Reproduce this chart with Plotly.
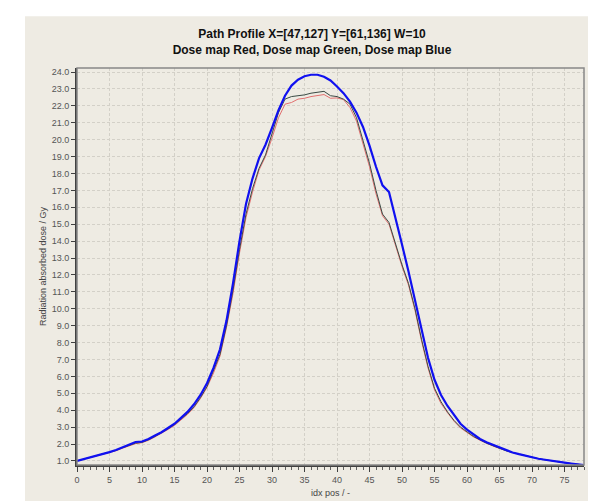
import plotly.graph_objects as go

idx = list(range(0, 79))

blue = [1.00, 1.10, 1.20, 1.30, 1.40, 1.52, 1.65, 1.80, 1.95, 2.12,
        2.15, 2.30, 2.50, 2.70, 2.95, 3.20, 3.55, 3.90, 4.35, 4.90,
        5.60, 6.50, 7.60, 9.30, 11.50, 14.00, 16.20, 17.70, 18.90, 19.70,
        20.70, 21.75, 22.60, 23.20, 23.55, 23.75, 23.84, 23.84, 23.72, 23.50,
        23.15, 22.75, 22.25, 21.60, 20.75, 19.65, 18.40, 17.30, 16.90, 15.40,
        13.80, 12.20, 10.50, 8.80, 7.10, 5.80, 4.90, 4.25, 3.70, 3.20,
        2.85, 2.55, 2.30, 2.10, 1.95, 1.80, 1.62, 1.50, 1.40, 1.30,
        1.20, 1.13, 1.07, 1.00, 0.95, 0.90, 0.85, 0.80, 0.76]

green = [1.00, 1.10, 1.20, 1.30, 1.40, 1.50, 1.63, 1.78, 1.92, 2.05,
         2.10, 2.25, 2.45, 2.65, 2.90, 3.15, 3.45, 3.80, 4.20, 4.75,
         5.40, 6.30, 7.30, 9.00, 11.10, 13.50, 15.60, 17.10, 18.30, 19.10,
         20.30, 21.60, 22.40, 22.55, 22.60, 22.65, 22.75, 22.80, 22.86, 22.60,
         22.55, 22.40, 22.10, 21.30, 20.00, 18.60, 17.00, 15.60, 15.10, 13.80,
         12.60, 11.50, 10.00, 8.20, 6.60, 5.30, 4.50, 3.90, 3.40, 3.00,
         2.70, 2.45, 2.25, 2.05, 1.90, 1.75, 1.60, 1.50, 1.40, 1.30,
         1.20, 1.13, 1.07, 1.00, 0.95, 0.90, 0.85, 0.80, 0.76]

red = [1.00, 1.10, 1.20, 1.30, 1.38, 1.48, 1.60, 1.75, 1.90, 2.02,
       2.08, 2.22, 2.42, 2.62, 2.86, 3.10, 3.40, 3.75, 4.15, 4.70,
       5.35, 6.20, 7.20, 8.90, 10.90, 13.30, 15.40, 16.90, 18.20, 19.00,
       20.10, 21.30, 22.10, 22.20, 22.40, 22.45, 22.55, 22.60, 22.67, 22.45,
       22.47, 22.37, 21.90, 21.10, 19.80, 18.40, 16.80, 15.50, 15.00, 13.70,
       12.50, 11.40, 9.90, 8.10, 6.50, 5.20, 4.40, 3.85, 3.35, 2.95,
       2.68, 2.42, 2.22, 2.03, 1.88, 1.74, 1.60, 1.50, 1.40, 1.30,
       1.20, 1.13, 1.07, 1.00, 0.95, 0.90, 0.85, 0.80, 0.76]

y_ticks = [float(v) for v in range(1, 25)]

W, H = 596, 501
ML, MR, MT, MB = 69, 20, 60, 42
PW, PH = W - ML - MR, H - MT - MB

def px(x):
    return (x - ML) / PW

def py(y):
    return 1 - (y - MT) / PH

panel = "#EEEBE3"
grid = "#D3D0C8"

fig = go.Figure()
fig.add_trace(go.Scatter(x=idx, y=red, mode="lines", name="Dose map Red",
                         line=dict(color="#E27070", width=1)))
fig.add_trace(go.Scatter(x=idx, y=green, mode="lines", name="Dose map Green",
                         line=dict(color="#3A4A44", width=1)))
fig.add_trace(go.Scatter(x=idx, y=blue, mode="lines", name="Dose map Blue",
                         line=dict(color="#1010F0", width=2.2)))

fig.update_layout(
    width=W, height=H,
    margin=dict(l=ML, r=MR, t=MT, b=MB),
    paper_bgcolor="white",
    plot_bgcolor=panel,
    showlegend=False,
    font=dict(family="Liberation Sans, Arial, sans-serif", size=9, color="#555555"),
    title=dict(text="<b>Path Profile X=[47,127] Y=[61,136] W=10<br>Dose map Red, Dose map Green, Dose map Blue</b>",
               x=px(304), xanchor="center", xref="paper",
               y=1 - 30 / H, yanchor="middle",
               font=dict(size=12, color="#111111", family="Liberation Sans, Arial, sans-serif")),
    shapes=[
        dict(type="rect", xref="paper", yref="paper", x0=px(17), x1=px(592), y0=py(497), y1=py(8),
             fillcolor=panel, line=dict(width=0), layer="below"),
        dict(type="line", xref="paper", yref="paper", x0=px(592), x1=px(592), y0=py(497), y1=py(8),
             line=dict(color="#999999", width=1.5), layer="below"),
        dict(type="rect", xref="paper", yref="paper", x0=0, x1=1, y0=0, y1=1,
             line=dict(color="#888888", width=1.5), layer="above"),
    ],
    xaxis=dict(range=[0, 78], tickmode="linear", tick0=0, dtick=5,
               showgrid=True, gridcolor=grid, griddash="3px,2px", gridwidth=1,
               zeroline=False, showline=True, linecolor="#404040", linewidth=2,
               ticks="outside", ticklen=5, tickcolor="#404040",
               minor=dict(dtick=1, ticks="outside", ticklen=3, tickcolor="#606060", showgrid=False),
               title=dict(text="idx pos / -", font=dict(size=9, color="#444444"), standoff=6)),
    yaxis=dict(range=[0.76, 24.24], tickmode="array", tickvals=y_ticks,
               ticktext=[f"{v:.1f}" for v in y_ticks],
               showgrid=True, gridcolor=grid, griddash="3px,2px", gridwidth=1,
               zeroline=False, showline=True, linecolor="#404040", linewidth=2,
               ticks="outside", ticklen=4, tickcolor="#404040",
               title=dict(text="Radiation absorbed dose / Gy", font=dict(size=9, color="#444444"), standoff=4)),
)

fig.write_html("out.html")
